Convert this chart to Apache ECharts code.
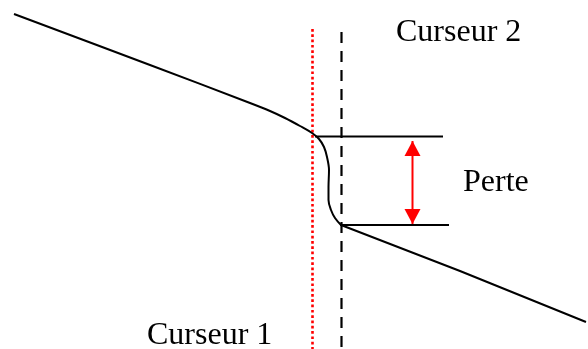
<!DOCTYPE html>
<html>
<head>
<meta charset="utf-8">
<script src="https://cdn.jsdelivr.net/npm/echarts@6/dist/echarts.min.js"></script>
<style>html,body{margin:0;padding:0;background:#fff;}#c{width:588px;height:349px;}</style>
</head>
<body>
<div id="c"></div>
<script>
// Schematic values (x: horizontal position, y: vertical position, inverted axis)
const curveX = [14, 150, 250, 270, 285, 300, 312, 319, 324, 327, 329, 328.5, 328.5, 331, 335, 341];
const curveY = [14, 65, 103, 111, 118, 126, 133, 139, 147, 157, 170, 187, 200, 210, 218, 225];
const tailX = [341, 460, 586];
const tailY = [225, 271, 322];
const cursor1X = 312.5, cursor1Y = [29, 349];
const cursor2X = 341.5, cursor2Y = [32, 349];
const topLevelX = [315, 443], topLevelY = 136.5;
const lowLevelX = [340, 449], lowLevelY = 225;
const arrowX = 412.5, arrowY = [141, 224];
const labels = ['Curseur 2', 'Perte', 'Curseur 1'];
const labelX = [396, 463, 147];
const labelY = [33, 183, 336];

const chart = echarts.init(document.getElementById('c'), null, {renderer: 'canvas'});
const zip = (xs, ys) => xs.map((x, i) => [x, ys[i]]);
const font = {fontFamily: "'Liberation Serif','Times New Roman',serif", fontSize: 32, color: '#000', opacity: 1, textBorderWidth: 0};

chart.setOption({
  animation: false,
  backgroundColor: '#fff',
  grid: {left: 0, right: 0, top: 0, bottom: 0},
  xAxis: {type: 'value', min: 0, max: 588, show: false},
  yAxis: {type: 'value', min: 0, max: 349, inverse: true, show: false},
  series: [
    {type: 'line', data: cursor1Y.map(y => [cursor1X, y]), symbol: 'none',
     lineStyle: {color: '#ff0000', width: 2.6, type: [2.7, 2.6], opacity: 1}},
    {type: 'line', data: cursor2Y.map(y => [cursor2X, y]), symbol: 'none',
     lineStyle: {color: '#000', width: 2.2, type: [11, 8]}},
    {type: 'line', data: topLevelX.map(x => [x, topLevelY]), symbol: 'none',
     lineStyle: {color: '#000', width: 1.8}},
    {type: 'line', data: lowLevelX.map(x => [x, lowLevelY]), symbol: 'none',
     lineStyle: {color: '#000', width: 1.8}},
    {type: 'line', data: arrowY.map(y => [arrowX, y]), symbol: 'none',
     lineStyle: {color: '#ff0000', width: 2}},
    {type: 'scatter', symbol: 'triangle', symbolSize: [16, 15],
     itemStyle: {color: '#ff0000', opacity: 1},
     data: [
       {value: [arrowX, arrowY[0]], symbolRotate: 0, symbolOffset: [0, 7.5]},
       {value: [arrowX, arrowY[1]], symbolRotate: 180, symbolOffset: [0, -7.5]}
     ]},
    {type: 'line', data: zip(curveX, curveY), symbol: 'none', smooth: 0.35,
     lineStyle: {color: '#000', width: 2}},
    {type: 'line', data: zip(tailX, tailY), symbol: 'none',
     lineStyle: {color: '#000', width: 2}},
    {type: 'scatter', symbolSize: 0, itemStyle: {opacity: 1},
     data: labels.map((t, i) => ({name: t, value: [labelX[i], labelY[i]]})),
     label: Object.assign({show: true, position: [0, 0], align: 'left', verticalAlign: 'middle',
       formatter: p => p.name}, font)}
  ]
});
</script>
</body>
</html>
